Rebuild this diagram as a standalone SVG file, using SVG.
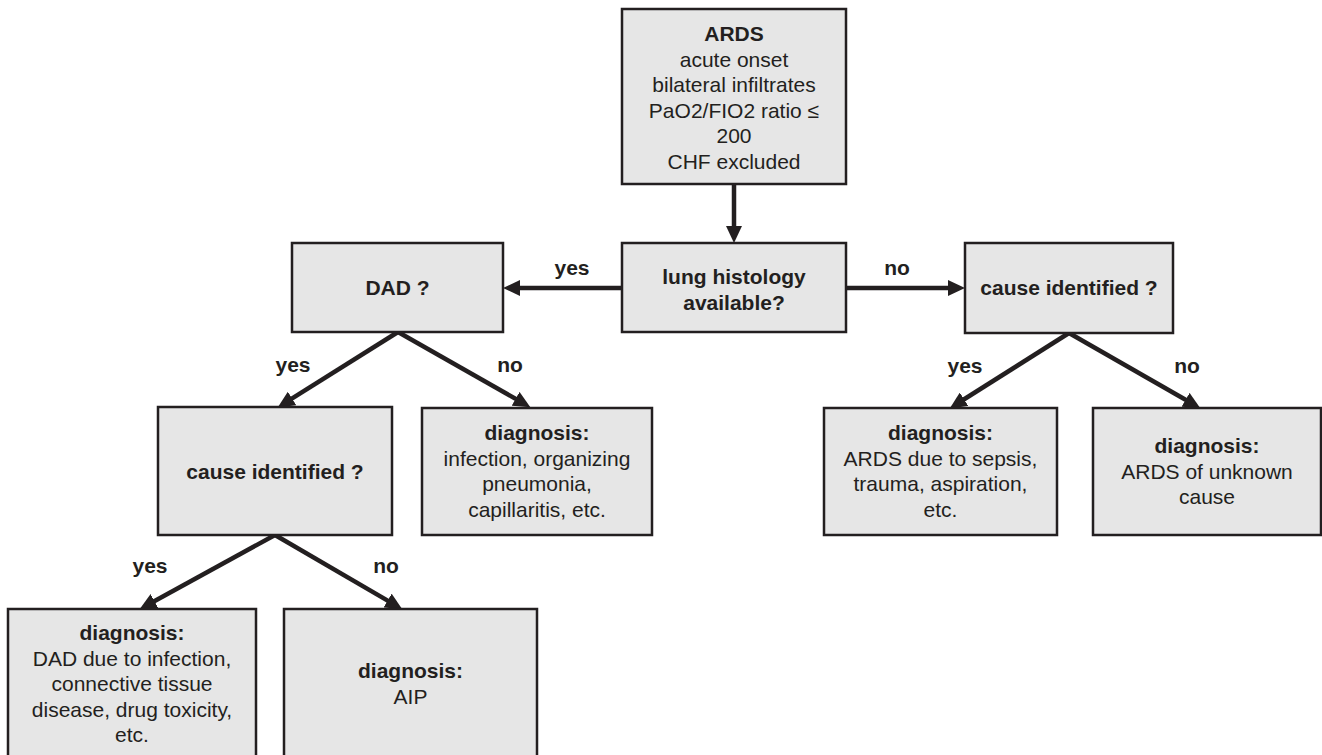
<svg xmlns="http://www.w3.org/2000/svg" width="1322" height="755" viewBox="0 0 1322 755">
  <style>
    .box { fill: #e6e6e6; stroke: #231f20; stroke-width: 2.5; }
    .txt { font-family: "Liberation Sans", Arial, sans-serif; font-size: 21px; fill: #231f20; text-anchor: middle; }
    .b { font-weight: bold; }
    .edge { fill: none; stroke: #231f20; stroke-width: 4.5; }
  </style>
  <defs>
    <marker id="arrow" markerUnits="userSpaceOnUse" markerWidth="18" markerHeight="16" refX="6" refY="8" orient="auto">
      <path d="M0,0 L17,8 L0,16 z" fill="#231f20"/>
    </marker>
  </defs>
  <rect width="1322" height="755" fill="#ffffff"/>

  <!-- connectors -->
  <g id="connectors" marker-end="url(#arrow)">
    <path class="edge" d="M734,184 L734,232"/>
    <path class="edge" d="M622,288 L514,288"/>
    <path class="edge" d="M846,288 L954,288"/>
    <path class="edge" d="M398,332 L287,401.7"/>
    <path class="edge" d="M398,332 L520.8,401.8"/>
    <path class="edge" d="M275,535 L149.2,604"/>
    <path class="edge" d="M275,535 L392.8,603.6"/>
    <path class="edge" d="M1069,333 L959,402.5"/>
    <path class="edge" d="M1069,333 L1190.8,402.8"/>
  </g>

  <!-- connector labels -->
  <g id="labels" class="txt b">
    <text x="572" y="275">yes</text>
    <text x="897" y="275">no</text>
    <text x="293" y="372">yes</text>
    <text x="510" y="372">no</text>
    <text x="150" y="573">yes</text>
    <text x="386" y="573">no</text>
    <text x="965" y="373">yes</text>
    <text x="1187" y="373">no</text>
  </g>

  <g id="ards">
    <rect class="box" x="622" y="9" width="224" height="175"/>
    <text class="txt" x="734" y="41"><tspan class="b">ARDS</tspan><tspan x="734" y="66.5">acute onset</tspan><tspan x="734" y="92">bilateral infiltrates</tspan><tspan x="734" y="117.5">PaO2/FIO2 ratio ≤</tspan><tspan x="734" y="143">200</tspan><tspan x="734" y="168.5">CHF excluded</tspan></text>
  </g>

  <g id="histology">
    <rect class="box" x="622" y="243" width="224" height="89"/>
    <text class="txt b" x="734" y="284">lung histology<tspan x="734" y="309.5">available?</tspan></text>
  </g>

  <g id="dad">
    <rect class="box" x="292" y="243" width="211" height="89"/>
    <text class="txt b" x="397.5" y="295">DAD ?</text>
  </g>

  <g id="cause-right">
    <rect class="box" x="965" y="243" width="208" height="90"/>
    <text class="txt b" x="1069" y="295">cause identified ?</text>
  </g>

  <g id="cause-left">
    <rect class="box" x="158" y="407" width="234" height="128"/>
    <text class="txt b" x="275" y="479">cause identified ?</text>
  </g>

  <g id="dx-infection">
    <rect class="box" x="422" y="408" width="230" height="127"/>
    <text class="txt" x="537" y="440"><tspan class="b">diagnosis:</tspan><tspan x="537" y="465.5">infection, organizing</tspan><tspan x="537" y="491">pneumonia,</tspan><tspan x="537" y="516.5">capillaritis, etc.</tspan></text>
  </g>

  <g id="dx-sepsis">
    <rect class="box" x="824" y="408" width="233" height="127"/>
    <text class="txt" x="940.5" y="440"><tspan class="b">diagnosis:</tspan><tspan x="940.5" y="465.5">ARDS due to sepsis,</tspan><tspan x="940.5" y="491">trauma, aspiration,</tspan><tspan x="940.5" y="516.5">etc.</tspan></text>
  </g>

  <g id="dx-unknown">
    <rect class="box" x="1093" y="408" width="228" height="127"/>
    <text class="txt" x="1207" y="453"><tspan class="b">diagnosis:</tspan><tspan x="1207" y="478.5">ARDS of unknown</tspan><tspan x="1207" y="504">cause</tspan></text>
  </g>

  <g id="dx-dad-cause">
    <rect class="box" x="8" y="609" width="248" height="152"/>
    <text class="txt" x="132" y="640"><tspan class="b">diagnosis:</tspan><tspan x="132" y="665.5">DAD due to infection,</tspan><tspan x="132" y="691">connective tissue</tspan><tspan x="132" y="716.5">disease, drug toxicity,</tspan><tspan x="132" y="742">etc.</tspan></text>
  </g>

  <g id="dx-aip">
    <rect class="box" x="284" y="609" width="253" height="152"/>
    <text class="txt" x="410.5" y="678"><tspan class="b">diagnosis:</tspan><tspan x="410.5" y="703.5">AIP</tspan></text>
  </g>
</svg>
